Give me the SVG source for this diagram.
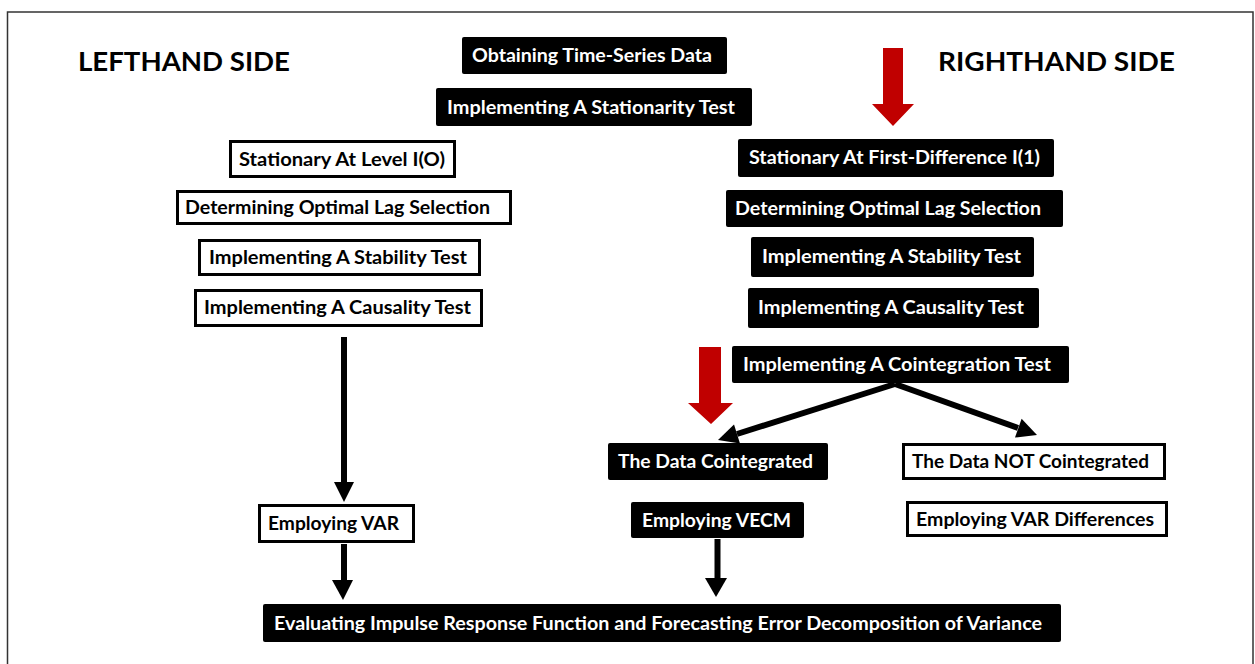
<svg xmlns="http://www.w3.org/2000/svg" width="1255" height="664" viewBox="0 0 1255 664">
<style>
  .t{font-family:Lato,"Liberation Sans",sans-serif;font-weight:bold;font-size:19px}
  .w{fill:#fff}
  .k{fill:#000}
  .bk{fill:#000;stroke:none}
  .wh{fill:#fff;stroke:#000;stroke-width:3}
  .title{font-family:Lato,"Liberation Sans",sans-serif;font-weight:bold;font-size:27px;fill:#000}
  .ln{stroke:#000;stroke-width:6;fill:none}
  .red{fill:#c00000}
</style>
<rect x="0" y="0" width="1255" height="664" fill="#fff"/>
<rect x="7.5" y="12" width="1245.5" height="670" fill="none" stroke="#333" stroke-width="1.5"/>

<text class="title" x="78" y="71" textLength="212" lengthAdjust="spacingAndGlyphs">LEFTHAND SIDE</text>
<text class="title" x="938" y="71" textLength="237" lengthAdjust="spacingAndGlyphs">RIGHTHAND SIDE</text>

<g id="connectors">
  <polygon class="red" points="883,48 903,48 903,104 914,104 893,126 872,104 883,104"/>
  <polygon class="red" points="699,347 721,347 721,403 733,403 711,424 688,403 699,403"/>
  <line class="ln" x1="344" y1="337" x2="344" y2="483"/>
  <polygon class="k" points="334,482 354,482 344,502"/>
  <line class="ln" x1="895" y1="384" x2="737" y2="434"/>
  <polygon class="k" points="718,440 740,443.5 734,424.5"/>
  <line class="ln" x1="895" y1="384" x2="1018" y2="428"/>
  <polygon class="k" points="1037,435 1015,437.6 1021.6,418.8"/>
  <line class="ln" x1="344" y1="544" x2="344" y2="581"/>
  <polygon class="k" points="332,580 353,580 343,600"/>
  <line class="ln" x1="717.5" y1="539" x2="717.5" y2="579"/>
  <polygon class="k" points="705,578 727,578 716,597"/>
</g>

<g id="n_obtain"><rect class="bk" x="462" y="37" width="265" height="37" rx="2"/><text class="t w" x="472" y="62" textLength="240" lengthAdjust="spacingAndGlyphs">Obtaining Time-Series Data</text></g>
<g id="n_stationarity"><rect class="bk" x="436" y="88" width="316" height="38" rx="2"/><text class="t w" x="447" y="114" textLength="288" lengthAdjust="spacingAndGlyphs">Implementing A Stationarity Test</text></g>

<g id="n_level"><rect class="wh" x="230.5" y="141.5" width="224" height="35"/><text class="t k" x="239" y="166" textLength="206" lengthAdjust="spacingAndGlyphs">Stationary At Level I(O)</text></g>
<g id="n_lag_l"><rect class="wh" x="177.5" y="191.5" width="333" height="32"/><text class="t k" x="185" y="214" textLength="305" lengthAdjust="spacingAndGlyphs">Determining Optimal Lag Selection</text></g>
<g id="n_stab_l"><rect class="wh" x="199.5" y="240.5" width="280" height="34"/><text class="t k" x="209" y="264" textLength="258" lengthAdjust="spacingAndGlyphs">Implementing A Stability Test</text></g>
<g id="n_caus_l"><rect class="wh" x="195.5" y="290.5" width="286" height="35"/><text class="t k" x="204" y="314" textLength="267" lengthAdjust="spacingAndGlyphs">Implementing A Causality Test</text></g>
<g id="n_var"><rect class="wh" x="259.5" y="505.5" width="154" height="36"/><text class="t k" x="268" y="530" textLength="131" lengthAdjust="spacingAndGlyphs">Employing VAR</text></g>

<g id="n_first"><rect class="bk" x="738" y="139" width="316" height="38" rx="2"/><text class="t w" x="749" y="164" textLength="291" lengthAdjust="spacingAndGlyphs">Stationary At First-Difference I(1)</text></g>
<g id="n_lag_r"><rect class="bk" x="726" y="190" width="337" height="37" rx="2"/><text class="t w" x="735" y="215" textLength="306" lengthAdjust="spacingAndGlyphs">Determining Optimal Lag Selection</text></g>
<g id="n_stab_r"><rect class="bk" x="751" y="237" width="283" height="40" rx="2"/><text class="t w" x="762" y="263" textLength="259" lengthAdjust="spacingAndGlyphs">Implementing A Stability Test</text></g>
<g id="n_caus_r"><rect class="bk" x="748" y="288" width="291" height="40" rx="2"/><text class="t w" x="758" y="314" textLength="266" lengthAdjust="spacingAndGlyphs">Implementing A Causality Test</text></g>
<g id="n_coint"><rect class="bk" x="732" y="346" width="337" height="37" rx="2"/><text class="t w" x="743" y="371" textLength="308" lengthAdjust="spacingAndGlyphs">Implementing A Cointegration Test</text></g>
<g id="n_yes"><rect class="bk" x="608" y="443" width="220" height="37" rx="2"/><text class="t w" x="618" y="468" textLength="195" lengthAdjust="spacingAndGlyphs">The Data Cointegrated</text></g>
<g id="n_no"><rect class="wh" x="903.5" y="444.5" width="261" height="34"/><text class="t k" x="912" y="468" textLength="237" lengthAdjust="spacingAndGlyphs">The Data NOT Cointegrated</text></g>
<g id="n_vecm"><rect class="bk" x="631" y="502" width="173" height="36" rx="2"/><text class="t w" x="642" y="527" textLength="149" lengthAdjust="spacingAndGlyphs">Employing VECM</text></g>
<g id="n_vardiff"><rect class="wh" x="907.5" y="502.5" width="259" height="33"/><text class="t k" x="916" y="526" textLength="238" lengthAdjust="spacingAndGlyphs">Employing VAR Differences</text></g>

<g id="n_eval"><rect class="bk" x="263" y="604" width="798" height="38" rx="2"/><text class="t w" x="274" y="630" textLength="768" lengthAdjust="spacingAndGlyphs">Evaluating Impulse Response Function and Forecasting Error Decomposition of Variance</text></g>
</svg>
